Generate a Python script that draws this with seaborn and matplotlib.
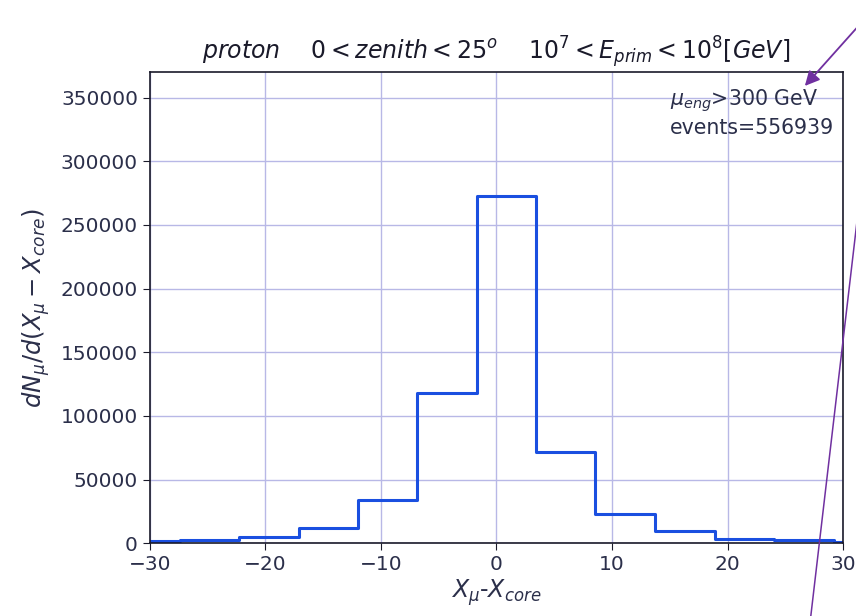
import numpy as np
import pandas as pd
import matplotlib.pyplot as plt
import seaborn as sns
from matplotlib.lines import Line2D

# bin edges of X_mu - X_core histogram
bin_edges = [-32.6, -27.4, -22.3, -17.1, -12.0, -6.9, -1.7, 3.4, 8.5, 13.7, 18.9, 24.0, 29.2, 34.4]
counts = [1500, 2800, 5000, 12300, 33700, 118000, 273000, 71500, 23300, 9700, 3700, 2400, 1000]

centers = [(a + b) / 2 for a, b in zip(bin_edges[:-1], bin_edges[1:])]
df = pd.DataFrame({'dx': centers, 'n': counts})

sns.set_style('white')
plt.rcParams['mathtext.fontset'] = 'dejavusans'

fig, ax = plt.subplots(figsize=(8.56, 6.16), dpi=100)
fig.subplots_adjust(left=0.175, right=0.985, top=0.883, bottom=0.118)

sns.histplot(data=df, x='dx', weights='n', bins=bin_edges, element='step', fill=False,
             color='#1a4fe0', linewidth=2.2, ax=ax)

ax.set_xlim(-30, 30)
ax.set_ylim(0, 370000)
ax.set_xticks([-30, -20, -10, 0, 10, 20, 30])
ax.set_yticks(np.arange(0, 350001, 50000))
ax.grid(True, color='#b8b8e6', linewidth=1)
ax.set_axisbelow(True)
for s in ax.spines.values():
    s.set_color('#1a1a2a')
    s.set_linewidth(1.2)

txtcol = '#2b2f4a'
ax.tick_params(labelsize=14.5, colors=txtcol, length=5, left=True, bottom=True)
ax.tick_params(axis='both', color='#1a1a2a')

ax.set_xlabel(r'$X_\mu$-$X_{core}$', fontsize=17, color=txtcol, labelpad=2)
ax.set_ylabel(r'$dN_\mu/d(X_\mu-X_{core})$', fontsize=17.5, color=txtcol, labelpad=6)
ax.set_title(r'$proton\quad\ 0<zenith<25^o\quad\ 10^7<E_{prim}<10^8[GeV]$',
             fontsize=17, color='#1a1a2a', pad=9)

ax.text(15.0, 358000, r'$\mu_{eng}$>300 GeV' + '\nevents=556939', fontsize=14.8,
        color=txtcol, va='top', ha='left', linespacing=1.25)

# purple annotation lines drawn over the picture
W, H = 856, 616
def fx(px):
    return px / W
def fy(py):
    return 1 - py / H

ax.annotate('', xy=(fx(803), fy(88)), xycoords='figure fraction',
            xytext=(fx(862), fy(22)), textcoords='figure fraction',
            arrowprops=dict(arrowstyle='-|>', color='#7030a0', lw=1.3, mutation_scale=22),
            annotation_clip=False)
fig.add_artist(Line2D([fx(863), fx(808)], [fy(170), fy(640)], color='#7030a0', lw=1.1,
                      transform=fig.transFigure, clip_on=False))

fig.savefig('out.png', dpi=100)
